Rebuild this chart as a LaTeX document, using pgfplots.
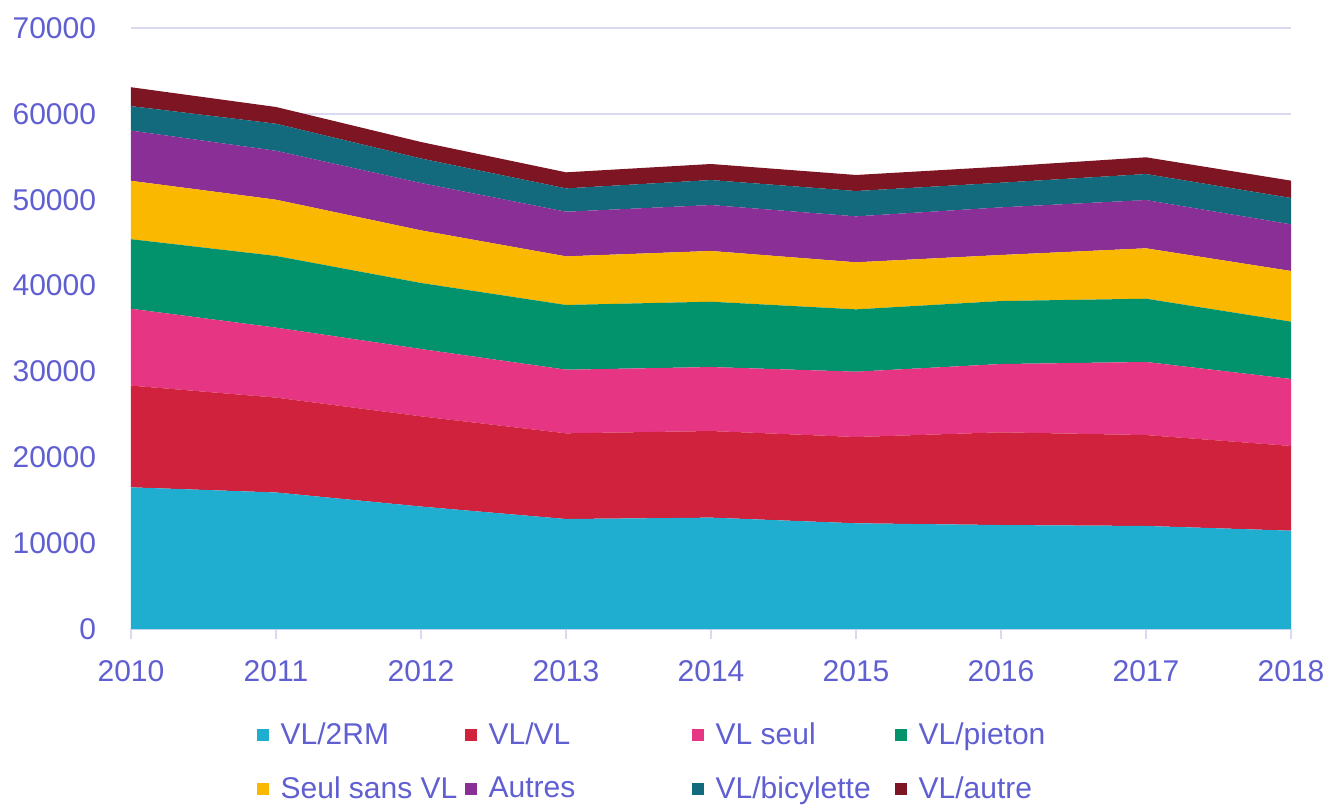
\documentclass[border=0pt]{standalone}
\usepackage{fontspec}
\setmainfont{Liberation Sans}
\usepackage{pgfplots}
\usepackage{pgfplotstable}
\pgfplotsset{compat=1.18}
\usetikzlibrary{calc}

\definecolor{TxtC}{HTML}{5F5FD2}
\definecolor{GridC}{HTML}{D9D9F2}
\definecolor{cRM}{HTML}{1FADD0}
\definecolor{cVLVL}{HTML}{D0213D}
\definecolor{cSeul}{HTML}{E63683}
\definecolor{cPieton}{HTML}{02936D}
\definecolor{cSans}{HTML}{FBB800}
\definecolor{cAutres}{HTML}{8A2F95}
\definecolor{cBic}{HTML}{136A7D}
\definecolor{cAutre}{HTML}{7D1523}

\pgfplotstableread{
year twoRM vlvl vlseul pieton sansvl autres bic autre
2010 16500 11850 8950 8100 6800 5850 2850 2200
2011 15900 11050 8150 8350 6550 5700 3150 1950
2012 14260 10510 7840 7690 6130 5510 2860 1920
2013 12810 9980 7410 7540 5660 5200 2720 1870
2014 12970 10090 7450 7610 5910 5350 2910 1870
2015 12310 10050 7610 7260 5480 5350 2950 1870
2016 12110 10800 7950 7340 5360 5550 2870 1870
2017 12000 10590 8510 7370 5870 5620 3030 1950
2018 11450 9870 7800 6680 5900 5430 3070 2020
}\data

\begin{document}
\begin{tikzpicture}
\begin{axis}[
  scale only axis,
  width=580pt, height=300.5pt,
  xmin=2010, xmax=2018, ymin=0, ymax=70000,
  stack plots=y,
  xtick={2010,2011,...,2018},
  ytick={0,10000,...,70000},
  scaled y ticks=false,
  ymajorgrids,
  grid style={draw=GridC, line width=0.8pt},
  axis lines*=left,
  y axis line style={draw=none},
  x axis line style={draw=GridC, line width=1pt},
  xtick style={draw=GridC, line width=1pt},
  ytick style={draw=none},
  tick align=outside,
  major tick length=5pt,
  tick label style={font=\fontsize{15}{18}\selectfont, text=TxtC},
  /pgf/number format/1000 sep={},
  /pgf/number format/assume math mode=true,
  yticklabel style={xshift=-9pt},
  xticklabel style={yshift=-7pt},
  legend columns=4,
  legend style={at={(0.1028,-0.142)}, anchor=north west, draw=none, fill=none,
    font=\fontsize{15}{18}\selectfont, text=TxtC,
    /tikz/every odd column/.append style={column sep=4pt},
    /tikz/every even column/.append style={column sep=0pt},
    /tikz/row sep=10.5pt},
  legend cell align=left,
  legend image code/.code={\fill[#1] (0pt,-3pt) rectangle (6pt,3pt);},
]
\addplot[fill=cRM, draw=none] table[x=year, y=twoRM] {\data} \closedcycle;
\addplot[fill=cVLVL, draw=none] table[x=year, y=vlvl] {\data} \closedcycle;
\addplot[fill=cSeul, draw=none] table[x=year, y=vlseul] {\data} \closedcycle;
\addplot[fill=cPieton, draw=none] table[x=year, y=pieton] {\data} \closedcycle;
\addplot[fill=cSans, draw=none] table[x=year, y=sansvl] {\data} \closedcycle;
\addplot[fill=cAutres, draw=none] table[x=year, y=autres] {\data} \closedcycle;
\addplot[fill=cBic, draw=none] table[x=year, y=bic] {\data} \closedcycle;
\addplot[fill=cAutre, draw=none] table[x=year, y=autre] {\data} \closedcycle;
\addlegendentry{\makebox[90pt][l]{VL/2RM}}
\addlegendentry{\makebox[99.5pt][l]{VL/VL}}
\addlegendentry{\makebox[87.5pt][l]{VL seul}}
\addlegendentry{VL/pieton}
\addlegendentry{\makebox[90pt][l]{Seul sans VL}}
\addlegendentry{\makebox[99.5pt][l]{Autres}}
\addlegendentry{\makebox[87.5pt][l]{VL/bicylette}}
\addlegendentry{VL/autre}
\end{axis}
\path ($(current axis.south west)+(-65.5pt,-88.5pt)$) rectangle ($(current axis.north east)+(20.5pt,14pt)$);
\end{tikzpicture}
\end{document}
